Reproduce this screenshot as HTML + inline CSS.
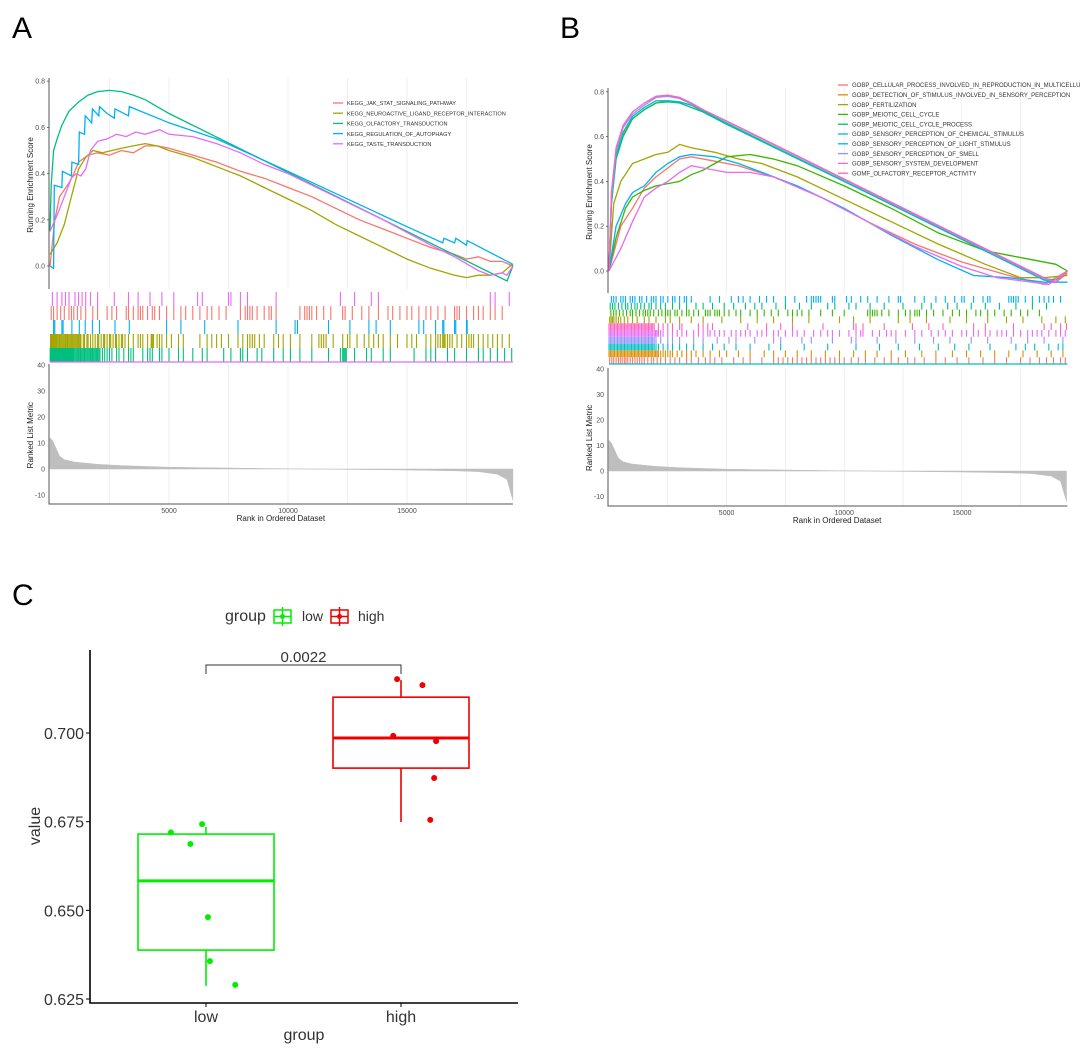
<!DOCTYPE html>
<html><head><meta charset="utf-8">
<style>
html,body{margin:0;padding:0;background:#fff;}
svg{display:block;font-family:"Liberation Sans",sans-serif;}
</style></head>
<body>
<svg id="fig" width="1080" height="1051" viewBox="0 0 1080 1051" xmlns="http://www.w3.org/2000/svg">
<rect x="0" y="0" width="1080" height="1051" fill="#fff"/>
<text x="12" y="38" font-size="30" fill="#000">A</text>
<text x="560" y="38" font-size="30" fill="#000">B</text>
<text x="12" y="605" font-size="30" fill="#000">C</text>
</svg>
<script>
// ---------- Panel A data ----------
const aNames = ["KEGG_JAK_STAT_SIGNALING_PATHWAY","KEGG_NEUROACTIVE_LIGAND_RECEPTOR_INTERACTION","KEGG_OLFACTORY_TRANSDUCTION","KEGG_REGULATION_OF_AUTOPHAGY","KEGG_TASTE_TRANSDUCTION"];
const aColors = ["#F8766D","#A3A500","#00BF7D","#00B0F6","#E76BF3"];
const aJakRank = [0,200,400,600,800,1000,1200,1600,2000,2500,3000,3500,4000,4500,5000,6000,7000,8000,9000,10000,11000,12000,13000,14000,15000,16000,17000,17500,18000,18500,19000,19450];
const aJakES = [0,0.2,0.3,0.33,0.36,0.4,0.45,0.48,0.49,0.48,0.5,0.49,0.52,0.52,0.51,0.48,0.45,0.41,0.38,0.34,0.3,0.25,0.2,0.16,0.12,0.08,0.05,0.03,0.04,0.02,0.02,0];
const aNeuRank = [0,300,600,900,1200,1500,1800,2200,2600,3000,3500,4000,4500,5000,6000,7000,8000,9000,10000,11000,12000,13000,14000,15000,16000,17000,17500,18000,18500,19000,19450];
const aNeuES = [0.05,0.1,0.18,0.3,0.42,0.47,0.5,0.49,0.5,0.51,0.52,0.53,0.52,0.5,0.47,0.43,0.39,0.34,0.29,0.24,0.18,0.13,0.08,0.03,-0.01,-0.04,-0.05,-0.04,-0.04,-0.03,0.01];
const aOlfRank = [0,50,150,300,500,800,1200,1600,2000,2500,3000,3500,4000,5000,19200,19450];
const aOlfES = [0.15,0.35,0.5,0.55,0.61,0.67,0.71,0.74,0.755,0.76,0.755,0.74,0.72,0.66,-0.065,0];
const aAutRank = [0,150,180,500,520,900,920,1200,1230,1450,1480,1750,1780,2050,2080,2400,2700,2730,3300,3330,5000,7000,10000,15000,16500,16550,17000,17050,17500,17530,19400,19450];
const aAutES = [0,-0.01,0.35,0.34,0.41,0.39,0.45,0.44,0.58,0.57,0.65,0.62,0.68,0.65,0.69,0.66,0.64,0.68,0.65,0.69,0.62,0.55,0.41,0.17,0.1,0.12,0.1,0.12,0.09,0.11,0.01,0];
const aTasRank = [0,300,600,900,1100,1300,1500,1700,2000,2400,2800,3200,3600,4000,4600,5000,6000,7000,8000,9000,10000,12000,14000,16000,17000,18000,18500,19000,19200,19450];
const aTasES = [0.15,0.22,0.3,0.38,0.4,0.39,0.42,0.5,0.54,0.55,0.57,0.56,0.58,0.57,0.59,0.57,0.56,0.53,0.49,0.44,0.4,0.3,0.2,0.09,0.04,-0.02,-0.04,-0.03,-0.04,0];
const aHitsTaste = [100,300,500,650,800,1050,1200,1350,1500,1700,2000,2700,3300,3700,4200,4700,5200,6200,6400,7500,7600,8000,8300,9500,12200,12800,13500,13800,18500,18700,19300];
const aHitsJak = [50,150,300,450,600,800,900,1000,1150,1300,1500,1800,2000,2400,2600,2800,3200,3300,3500,3700,3800,3900,4100,4300,4400,4600,4900,5200,5500,5700,6000,6300,6600,6800,7100,7400,8000,8200,8300,8400,8500,8700,9000,9200,9300,9500,10500,10700,10800,10900,11000,11200,11500,11800,12300,12400,12700,13100,13400,13800,14200,14400,14700,15000,15200,15500,15800,16000,16300,16600,17000,17100,17200,17500,17800,18000,18200,18500,18700,19000];
const aHitsAut = [150,200,500,550,920,1230,1480,1780,2080,2730,3330,4900,5500,6500,7900,9500,10300,10400,11700,12600,13400,13700,14300,15500,15700,16200,16500,16550,17000,17050,17500,17530];
const aHitsNeu = [20,60,100,140,180,220,260,300,350,400,450,500,550,600,650,700,750,800,850,900,950,1000,1050,1100,1150,1200,1250,1300,1400,1450,1550,1600,1700,1800,1900,2000,2050,2150,2250,2300,2400,2500,2550,2650,2750,2800,2900,3000,3050,3150,3300,3500,3700,3800,3900,4100,4250,4300,4350,4500,4600,4700,4900,5100,5400,5600,6300,6600,6800,7000,7200,7500,7900,8100,8300,8400,8500,8600,8800,9000,9400,9600,9800,10100,10500,11000,11300,11400,11500,11600,11900,12300,12500,12600,12900,13200,13400,13600,13800,14000,14300,14600,15000,15200,15400,15800,16000,16200,16300,16400,16500,16550,16600,16700,16800,16900,17100,17300,17500,17600,17700,17800,18000,18200,18400,18600,18800,19000,19300];
const aHitsOlf = [10,40,70,100,130,160,190,220,250,280,310,340,370,400,430,460,490,520,550,580,610,640,670,700,730,760,790,820,850,880,910,940,970,1000,1050,1100,1150,1200,1250,1300,1350,1400,1450,1500,1550,1600,1650,1700,1750,1800,1850,1900,1950,2000,2050,2100,2200,2300,2400,2500,2600,2800,2900,3100,3300,3400,3500,3900,4100,4200,4300,4600,4700,5000,5400,5600,6000,6400,6600,7300,7600,8000,8100,8300,8700,8900,9400,9800,10100,10500,11000,11700,12200,12300,12350,12400,12450,12800,13300,13500,14000,14300,15300,15800,16000,16200,16700,17000,17500,18000,18200,18500,18800,19100,19400];

// ---------- Panel B data ----------
const bNames = ["GOBP_CELLULAR_PROCESS_INVOLVED_IN_REPRODUCTION_IN_MULTICELLULAR_ORGANISM","GOBP_DETECTION_OF_STIMULUS_INVOLVED_IN_SENSORY_PERCEPTION","GOBP_FERTILIZATION","GOBP_MEIOTIC_CELL_CYCLE","GOBP_MEIOTIC_CELL_CYCLE_PROCESS","GOBP_SENSORY_PERCEPTION_OF_CHEMICAL_STIMULUS","GOBP_SENSORY_PERCEPTION_OF_LIGHT_STIMULUS","GOBP_SENSORY_PERCEPTION_OF_SMELL","GOBP_SENSORY_SYSTEM_DEVELOPMENT","GOMF_OLFACTORY_RECEPTOR_ACTIVITY"];
const bColors = ["#F8766D","#D89000","#A3A500","#39B600","#00BF7D","#00BFC4","#00B0F6","#9590FF","#E76BF3","#FF62BC"];
const bTopRank = [0,100,300,600,1000,1500,2000,2500,3000,3500,4000,5000,18500,19000,19490];
const bOlfRecES = [0,0.35,0.55,0.65,0.71,0.75,0.78,0.785,0.775,0.75,0.72,0.67,-0.03,-0.05,0];
const bSmellES = [0,0.33,0.54,0.64,0.7,0.74,0.775,0.78,0.77,0.745,0.72,0.668,-0.035,-0.05,0];
const bChemES = [0,0.3,0.52,0.62,0.69,0.73,0.76,0.76,0.755,0.74,0.715,0.66,-0.04,-0.05,0];
const bDetES = [0,0.3,0.51,0.61,0.68,0.72,0.75,0.76,0.755,0.74,0.712,0.66,-0.04,-0.05,-0.01];
const bMeiProcES = [0,0.3,0.5,0.6,0.68,0.72,0.75,0.755,0.75,0.73,0.71,0.655,-0.035,-0.04,0];
const bFertRank = [0,200,500,1000,1500,2000,2500,3000,3500,4500,5500,6500,8000,10000,12000,14000,16000,17500,18500,19490];
const bFertES = [0,0.3,0.4,0.48,0.5,0.52,0.53,0.565,0.55,0.53,0.5,0.48,0.42,0.32,0.22,0.12,0.03,-0.03,-0.03,-0.02];
const bMeiRank = [0,300,700,1000,1500,2000,2500,3000,3500,4000,4500,5000,6000,7000,8000,10000,12000,14000,16000,17000,18000,19000,19490];
const bMeiES = [0,0.15,0.28,0.33,0.36,0.38,0.39,0.4,0.43,0.45,0.48,0.51,0.52,0.5,0.47,0.38,0.28,0.17,0.09,0.07,0.05,0.03,0];
const bLightRank = [0,300,700,1000,1500,2000,2500,3000,3500,4500,5500,6500,8000,10000,12000,14000,15500,17000,18500,19490];
const bLightES = [0,0.2,0.3,0.35,0.38,0.44,0.48,0.51,0.52,0.51,0.48,0.44,0.38,0.28,0.16,0.05,-0.02,-0.03,-0.05,-0.05];
const bCellRank = [0,500,1000,1500,2000,2500,3000,3500,4500,5500,7000,9000,11000,13000,15000,17000,18500,19490];
const bCellES = [0,0.2,0.28,0.37,0.42,0.46,0.5,0.51,0.49,0.47,0.42,0.33,0.22,0.12,0.04,-0.02,-0.06,0];
const bDevRank = [0,500,1000,1500,2000,2500,3000,3500,4000,5000,6000,7000,9000,11000,13000,15000,16500,18000,18700,19490];
const bDevES = [0,0.1,0.22,0.33,0.37,0.4,0.44,0.47,0.46,0.44,0.44,0.42,0.33,0.22,0.11,0.02,-0.03,-0.05,-0.06,0];
const bHitsLight = [100,200,300,500,600,700,900,1000,1100,1300,1400,1600,1800,1900,2000,2200,2300,2500,2700,2800,3000,3200,3300,3500,4300,4700,5200,5500,5700,6000,6400,6700,7000,7500,7900,8400,8600,8700,8800,8900,9000,9500,9600,10100,10300,10700,11000,11400,11900,12300,12400,13000,13400,13900,14300,14700,15000,15100,15500,15900,16100,16200,17000,17100,17200,17300,17400,17700,18000,18300,18500,18700,18900,19200];
const bHitsMeiProc = [50,150,250,400,550,700,800,950,1100,1200,1350,1500,1700,1800,2000,2200,2400,2700,3000,3300,3700,4000,4400,4900,5300,5800,6200,6500,7100,7500,8100,8600,9300,9600,10200,10500,11100,11700,12500,13300,13700,14400,14800,15400,16000,16600,17300,18000,18600];
const bHitsMei = [80,200,300,450,600,750,900,1000,1150,1300,1450,1550,1650,1750,1900,2100,2250,2400,2500,2600,2800,2900,3100,3300,3400,3600,3800,4100,4200,4300,4500,4600,4700,4900,5100,5400,5600,6000,6300,6600,6900,7200,7600,7800,8000,8200,8500,9000,9500,10000,11000,11100,11200,11300,11400,11600,11900,12300,12600,12800,13000,13100,13200,13500,13800,14200,14600,14900,15200,15600,15800,16100,16400,16800,17100,17500,17800,18300];
const bHitsFert = [30,90,150,210,300,400,500,650,800,1000,1200,1500,1700,2000,2400,2600,3000,3500,4000,4800,5600,6300,7000,7800,8500,9800,10400,11100,12300,12800,13500,14500,15200,16100,16900,17600,18400,19000,19400];
const bHitsOlfRec = [0,60,120,180,240,300,360,420,480,540,600,660,720,780,840,900,960,1020,1080,1140,1200,1260,1320,1380,1440,1500,1560,1620,1680,1740,1800,1860,1920,2100,2300,2500,2700,3000,3100,3800,4000,4200,4400,5900,6700,7300,7800,9100,10400,10500,10800,11700,12900,13600,14200,15500,16000,17200,18500,18800,19200,19450];
const bHitsDev = [0,60,120,180,240,300,360,420,480,540,600,660,720,780,840,900,960,1020,1080,1140,1200,1260,1320,1380,1440,1500,1560,1620,1680,1740,1800,1860,1920,1980,2040,2100,2200,2300,2500,2700,2900,3100,3300,3600,3800,4000,4200,4300,4500,4700,4900,5200,5400,5600,5800,6000,6300,6500,6700,7000,7200,7500,7800,8000,8300,8700,9000,9300,9500,9800,10200,10500,10700,10800,11200,11500,11800,12000,12200,12600,13000,13300,13700,14000,14300,14600,15000,15200,15500,15700,16000,16200,16500,16700,16900,17200,17500,17800,18000,18200,18400,18700,19000,19200,19400];
const bHitsSmell = [0,60,120,180,240,300,360,420,480,540,600,660,720,780,840,900,960,1020,1080,1140,1200,1260,1320,1380,1440,1500,1560,1620,1680,1740,1800,1860,1920,2000,2200,2500,2700,3000,3600,4000,4600,5100,5400,6200,7000,7300,8200,8600,9500,10300,10500,11400,12200,13000,13800,14500,15400,16100,17100,17800,18500,19300];
const bHitsChem = [0,60,120,180,240,300,360,420,480,540,600,660,720,780,840,900,960,1020,1080,1140,1200,1260,1320,1380,1440,1500,1560,1620,1680,1740,1800,1860,1920,2000,2100,2300,2500,2700,3000,3300,3600,4000,4400,4900,5400,6000,6800,7300,8300,9300,10500,11500,12300,13200,14000,14700,15300,16200,17300,17700,18100,18700,19100,19300];
const bHitsDet = [0,60,120,180,240,300,360,420,480,540,600,660,720,780,840,900,960,1020,1080,1140,1200,1260,1320,1380,1440,1500,1560,1620,1680,1740,1800,1860,1920,1980,2040,2100,2200,2300,2400,2500,2600,2700,2900,3100,3300,3500,3700,4000,4300,4700,5000,5500,6000,6600,7000,7500,8000,8600,9200,9800,10400,10900,11400,12000,12600,13300,13900,14600,15200,15800,16400,17000,17600,18200,18800,19300];
const bHitsCell = [30,120,200,300,400,480,560,650,720,800,900,1000,1100,1200,1300,1400,1500,1650,1800,1900,2050,2200,2400,2600,2800,3000,3300,3500,3800,4100,4300,4500,4800,5300,5700,6000,6500,7000,7200,7400,7600,7800,8000,8200,8400,8600,8800,9000,9200,9400,9600,9800,10000,10300,10600,10900,11300,11700,12000,12300,12700,13000,13400,13900,14300,14800,15300,15900,16400,16900,17500,17900,18300,18600,18900,19200,19400];

// shared ranked-list metric
const metricRank = [0,100,200,400,600,1000,2000,3000,5000,8000,12000,15000,17000,18000,18800,19200,19450];
const metricValue = [12,11,9,5,3.6,2.7,1.8,1.3,0.7,0.3,-0.1,-0.4,-0.7,-1,-2,-4,-12];

const xTicks = [5000,10000,15000];
const esTicks = [0,0.2,0.4,0.6,0.8];
const metricTicks = [-10,0,10,20,30,40];

// ---------- Panel C data ----------
const cGroups = ["low","high"];
const cColors = ["#00EE00","#EE0000"];
const cLowValues = [0.672,0.6743,0.6687,0.6481,0.6357,0.629];
const cHighValues = [0.7152,0.7135,0.6992,0.6977,0.6873,0.6755];
const cLowStats = [0.6287,0.6388,0.6583,0.6715,0.6735];   // min,q1,median,q3,max
const cHighStats = [0.6749,0.6901,0.6986,0.7101,0.7149];
const cJitterLow = [-0.18,-0.02,-0.08,0.01,0.02,0.15];
const cJitterHigh = [-0.02,0.11,-0.04,0.18,0.17,0.15];
const cYTicks = [0.625,0.650,0.675,0.700];
const cPValue = "0.0022";

const NS = "http://www.w3.org/2000/svg";
const svg = document.getElementById("fig");
function mk(tag, attrs, parent){
  const e = document.createElementNS(NS, tag);
  for (const k in attrs) e.setAttribute(k, attrs[k]);
  (parent || svg).appendChild(e);
  return e;
}

function drawGSEA(g, P, curves, hits, hitColors, names, colors, legendCfg){
  const x = r => P.x0 + r * P.xs;
  const yE = v => P.y0 - v * P.ys;
  const yM = v => P.m0 - v * P.ms;
  for (let r = 2500; r < P.rmax; r += 2500){
    const gl = mk("line",{x1:x(r),x2:x(r),y1:P.esTop,y2:P.rugTop-3,stroke:"#ebebeb","stroke-width":0.8},g);
    
    
    const gl2 = mk("line",{x1:x(r),x2:x(r),y1:P.mTop,y2:P.mBot,stroke:"#ebebeb","stroke-width":0.8},g);
    
    
  }
  curves.forEach((c,i)=>{
    let d = "";
    c.r.forEach((r,j)=>{ d += (j?"L":"M") + x(r).toFixed(1) + "," + yE(c.v[j]).toFixed(1); });
    const p = mk("path",{d:d,fill:"none",stroke:c.col,"stroke-width":1.3},g);
    
    
  });
  const ax = mk("line",{x1:P.x0-1,x2:P.x0-1,y1:P.esTop,y2:P.rugTop-3,stroke:"#555","stroke-width":1},g);
  
  
  esTicks.forEach(t=>{
    const tl = mk("text",{x:P.x0-5,y:yE(t)+2.5,"font-size":7,fill:"#4d4d4d","text-anchor":"end"},g);
    tl.textContent = t.toFixed(1);
    
    
    const tk = mk("line",{x1:P.x0-3,x2:P.x0-1,y1:yE(t),y2:yE(t),stroke:"#555","stroke-width":0.8},g);
    
    
  });
  const yt = mk("text",{x:0,y:0,"font-size":8,fill:"#222","text-anchor":"middle",transform:"translate("+P.ytx+","+((P.esTop+P.rugTop)/2)+") rotate(-90)"},g);
  yt.textContent = "Running Enrichment Score";
  
  
  const rowH = (P.rugBot - P.rugTop) / hits.length;
  hits.forEach((hs,i)=>{
    const top = P.rugTop + i*rowH;
    let d = "";
    hs.forEach(r=>{ d += "M" + x(r).toFixed(1) + "," + top.toFixed(1) + "V" + (top+rowH).toFixed(1); });
    const p = mk("path",{d:d,stroke:hitColors[i],"stroke-width":1.1,fill:"none"},g);
    
    
  });
  const bl = mk("line",{x1:P.x0,x2:x(P.rmax),y1:P.rugBot,y2:P.rugBot,stroke:P.rugLine,"stroke-width":1.2},g);
  
  
  let d = "M" + x(metricRank[0]) + "," + yM(0);
  metricRank.forEach((r,j)=>{ d += "L" + x(r).toFixed(1) + "," + yM(metricValue[j]).toFixed(1); });
  d += "L" + x(metricRank[metricRank.length-1]) + "," + yM(0) + "Z";
  const area = mk("path",{d:d,fill:"#bebebe",stroke:"#bebebe","stroke-width":0.5},g);
  
  
  const ax2 = mk("path",{d:"M"+(P.x0-1)+","+P.mTop+"V"+P.mBot+"H"+x(P.rmax),stroke:"#555","stroke-width":1,fill:"none"},g);
  
  
  metricTicks.forEach(t=>{
    const tl = mk("text",{x:P.x0-5,y:yM(t)+2.5,"font-size":7,fill:"#4d4d4d","text-anchor":"end"},g);
    tl.textContent = String(t);
    
    
  });
  const mt = mk("text",{x:0,y:0,"font-size":8,fill:"#222","text-anchor":"middle",transform:"translate("+P.ytx+","+(yM(13))+") rotate(-90)"},g);
  mt.textContent = "Ranked List Metric";
  
  
  xTicks.forEach(t=>{
    const tl = mk("text",{x:x(t),y:P.mBot+9,"font-size":7,fill:"#4d4d4d","text-anchor":"middle"},g);
    tl.textContent = String(t);
    
    
  });
  const xt = mk("text",{x:x(9700),y:P.mBot+17,"font-size":8,fill:"#222","text-anchor":"middle"},g);
  xt.textContent = "Rank in Ordered Dataset";
  
  
  names.forEach((n,i)=>{
    const yy = legendCfg.y + i*legendCfg.dy;
    const ll = mk("line",{x1:legendCfg.x,x2:legendCfg.x+10,y1:yy,y2:yy,stroke:colors[i],"stroke-width":1.3},g);
    
    
    const lt = mk("text",{x:legendCfg.x+14,y:yy+2.2,"font-size":legendCfg.fs,fill:"#333"},g);
    lt.textContent = n;
    
    
  });
}

const gA = mk("g",{});


drawGSEA(gA,
  {x0:50,xs:0.0238,rmax:19450,y0:266,ys:231,esTop:78,rugTop:292,rugBot:362,rugLine:"#E76BF3",m0:469,ms:2.6,mTop:364,mBot:504,ytx:33},
  [{r:aJakRank,v:aJakES,col:aColors[0]},{r:aNeuRank,v:aNeuES,col:aColors[1]},{r:aOlfRank,v:aOlfES,col:aColors[2]},{r:aAutRank,v:aAutES,col:aColors[3]},{r:aTasRank,v:aTasES,col:aColors[4]}],
  [aHitsTaste,aHitsJak,aHitsAut,aHitsNeu,aHitsOlf],
  [aColors[4],aColors[0],aColors[3],aColors[1],aColors[2]],
  aNames, aColors, {x:333,y:103,dy:10.2,fs:5.6});

const gB = mk("g",{});


drawGSEA(gB,
  {x0:609,xs:0.02352,rmax:19490,y0:271,ys:224,esTop:88,rugTop:296,rugBot:364,rugLine:"#00BFC4",m0:471,ms:2.55,mTop:368,mBot:506,ytx:592},
  [{r:bCellRank,v:bCellES,col:bColors[0]},{r:bTopRank,v:bDetES,col:bColors[1]},{r:bFertRank,v:bFertES,col:bColors[2]},{r:bMeiRank,v:bMeiES,col:bColors[3]},{r:bTopRank,v:bMeiProcES,col:bColors[4]},{r:bTopRank,v:bChemES,col:bColors[5]},{r:bLightRank,v:bLightES,col:bColors[6]},{r:bTopRank,v:bSmellES,col:bColors[7]},{r:bDevRank,v:bDevES,col:bColors[8]},{r:bTopRank,v:bOlfRecES,col:bColors[9]}],
  [bHitsLight,bHitsMeiProc,bHitsMei,bHitsFert,bHitsOlfRec,bHitsDev,bHitsSmell,bHitsChem,bHitsDet,bHitsCell],
  [bColors[6],bColors[4],bColors[3],bColors[2],bColors[9],bColors[8],bColors[7],bColors[5],bColors[1],bColors[0]],
  bNames, bColors, {x:838,y:85,dy:9.8,fs:6});

// ---------- Panel C ----------
const gC = mk("g",{});


const cy = v => 733 + (0.7 - v) * 3547;
const cx = i => 206 + i * 195;
const boxHalf = 68;
const cAxis = mk("path",{d:"M90,650V1003H518",stroke:"#000","stroke-width":1.6,fill:"none"},gC);


cYTicks.forEach(t=>{
  const tk = mk("line",{x1:86,x2:90,y1:cy(t),y2:cy(t),stroke:"#000","stroke-width":1},gC);
  
  
  const tl = mk("text",{x:84,y:cy(t)+6,"font-size":16,fill:"#333","text-anchor":"end"},gC);
  tl.textContent = t.toFixed(3);
  
  
});
const cStats = [cLowStats,cHighStats];
const cVals = [cLowValues,cHighValues];
const cJit = [cJitterLow,cJitterHigh];
cGroups.forEach((gname,i)=>{
  const tk = mk("line",{x1:cx(i),x2:cx(i),y1:1003,y2:1007,stroke:"#000","stroke-width":1},gC);
  
  
  const tl = mk("text",{x:cx(i),y:1022,"font-size":16,fill:"#333","text-anchor":"middle"},gC);
  tl.textContent = gname;
  
  
  const s = cStats[i], col = cColors[i];
  const wh = mk("path",{d:"M"+cx(i)+","+cy(s[0])+"V"+cy(s[1])+"M"+cx(i)+","+cy(s[3])+"V"+cy(s[4]),stroke:col,"stroke-width":1.6},gC);
  
  
  const bx = mk("rect",{x:cx(i)-boxHalf,y:cy(s[3]),width:boxHalf*2,height:cy(s[1])-cy(s[3]),fill:"none",stroke:col,"stroke-width":1.6},gC);
  
  
  const md = mk("line",{x1:cx(i)-boxHalf,x2:cx(i)+boxHalf,y1:cy(s[2]),y2:cy(s[2]),stroke:col,"stroke-width":3},gC);
  
  
  cVals[i].forEach((v,j)=>{
    const pt = mk("circle",{cx:cx(i + cJit[i][j]),cy:cy(v),r:3,fill:col},gC);
    
    
  });
});
const br = mk("path",{d:"M"+cx(0)+",674V665H"+cx(1)+"V674",stroke:"#333","stroke-width":1,fill:"none"},gC);


const pv = mk("text",{x:(cx(0)+cx(1))/2,y:662,"font-size":15,fill:"#333","text-anchor":"middle"},gC);
pv.textContent = cPValue;


const vt = mk("text",{x:0,y:0,"font-size":16,fill:"#333","text-anchor":"middle",transform:"translate(40,826) rotate(-90)"},gC);
vt.textContent = "value";


const gt = mk("text",{x:304,y:1040,"font-size":16,fill:"#333","text-anchor":"middle"},gC);
gt.textContent = "group";


const lgT = mk("text",{x:225,y:621,"font-size":16,fill:"#333"},gC);
lgT.textContent = "group";


const lgX = [274,331], lgLX = [302,358];
cGroups.forEach((gname,i)=>{
  const k = mk("g",{},gC);
  
  
  mk("rect",{x:lgX[i],y:610,width:17,height:13,fill:"none",stroke:cColors[i],"stroke-width":1.5},k);
  mk("line",{x1:lgX[i]+8.5,x2:lgX[i]+8.5,y1:607,y2:626,stroke:cColors[i],"stroke-width":1.5},k);
  mk("line",{x1:lgX[i],x2:lgX[i]+17,y1:616.5,y2:616.5,stroke:cColors[i],"stroke-width":1.5},k);
  mk("circle",{cx:lgX[i]+8.5,cy:616.5,r:2.5,fill:cColors[i]},k);
  const lt = mk("text",{x:lgLX[i],y:621,"font-size":14,fill:"#333"},gC);
  lt.textContent = gname;
  
  
});
</script>
</body></html>
